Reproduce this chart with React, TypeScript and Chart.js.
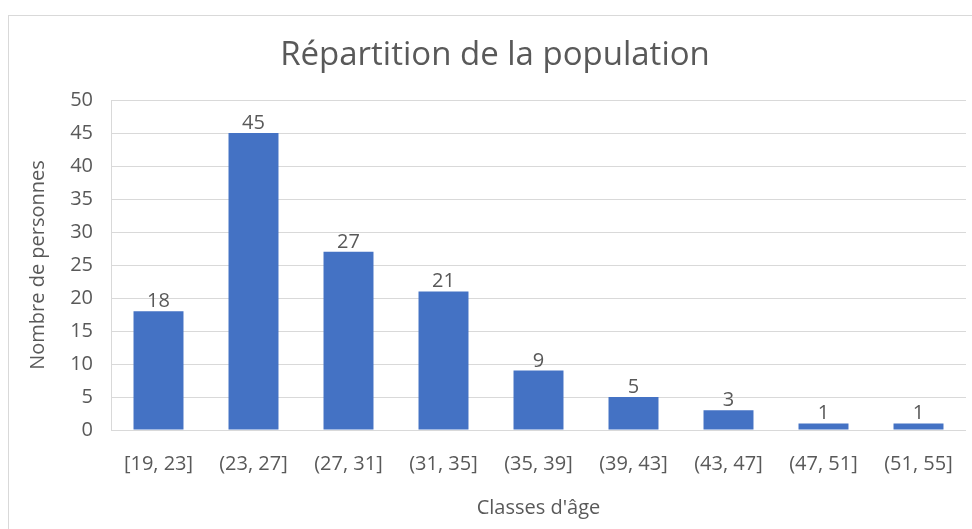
import React, { useEffect, useRef } from "react";
import { Chart, registerables } from "chart.js";

Chart.register(...registerables);

const categories = ["[19, 23]", "(23, 27]", "(27, 31]", "(31, 35]", "(35, 39]", "(39, 43]", "(43, 47]", "(47, 51]", "(51, 55]"];
const counts = [18, 45, 27, 21, 9, 5, 3, 1, 1];
const chartTitle = "Répartition de la population";
const xTitle = "Classes d'âge";
const yTitle = "Nombre de personnes";

const FONT = "'Open Sans', sans-serif";
const TEXT = "#595959";
const GRID = "#d9d9d9";

const borderPlugin = {
  id: "outerBorder",
  beforeDraw(chart: any) {
    const ctx = chart.ctx;
    ctx.save();
    ctx.fillStyle = "#ffffff";
    ctx.fillRect(0, 0, chart.width, chart.height);
    ctx.strokeStyle = GRID;
    ctx.lineWidth = 1;
    ctx.strokeRect(8.5, 15.5, chart.width + 20, chart.height + 20);
    ctx.restore();
  },
};

const titlePlugin = {
  id: "excelTitle",
  afterDraw(chart: any) {
    const ctx = chart.ctx;
    ctx.save();
    ctx.fillStyle = TEXT;
    ctx.font = `33px ${FONT}`;
    ctx.textAlign = "center";
    ctx.textBaseline = "alphabetic";
    ctx.fillText(chartTitle, 495, 65);
    ctx.restore();
  },
};

const labelPlugin = {
  id: "valueLabels",
  afterDatasetsDraw(chart: any) {
    const ctx = chart.ctx;
    const meta = chart.getDatasetMeta(0);
    const data = chart.data.datasets[0].data;
    ctx.save();
    ctx.fillStyle = TEXT;
    ctx.font = `20px ${FONT}`;
    ctx.textAlign = "center";
    ctx.textBaseline = "alphabetic";
    meta.data.forEach((bar: any, i: number) => {
      ctx.fillText(String(data[i]), bar.x, bar.y - 4);
    });
    ctx.restore();
  },
};

export default function App() {
  const ref = useRef<HTMLCanvasElement>(null);
  useEffect(() => {
    if (!ref.current) return;
    const chart = new Chart(ref.current, {
      type: "bar",
      data: {
        labels: categories,
        datasets: [
          {
            data: counts,
            backgroundColor: "#4472C4",
            borderWidth: 0,
            categoryPercentage: 1,
            barPercentage: 0.526,
          },
        ],
      },
      options: {
        responsive: false,
        animation: false,
        layout: { padding: { left: 0, right: 6, top: 100, bottom: 0 } },
        plugins: {
          legend: { display: false },
          tooltip: { enabled: false },
          title: { display: false },
        },
        scales: {
          x: {
            grid: { display: false },
            border: { display: false },
            ticks: {
              color: TEXT,
              font: { family: FONT, size: 20 },
              padding: 14,
              maxRotation: 0,
              autoSkip: false,
            },
            title: {
              display: true,
              text: xTitle,
              color: TEXT,
              font: { family: FONT, size: 20 },
              padding: { top: 0, bottom: 9 },
            },
            afterFit(scale: any) {
              scale.height = 99;
            },
          },
          y: {
            min: 0,
            max: 50,
            grid: { color: GRID, drawTicks: false },
            border: { display: true, color: GRID },
            ticks: {
              stepSize: 5,
              color: TEXT,
              font: { family: FONT, size: 20 },
              padding: 18,
            },
            title: {
              display: true,
              text: yTitle,
              color: TEXT,
              font: { family: FONT, size: 20 },
              padding: { top: 26, bottom: 0 },
            },
            afterFit(scale: any) {
              scale.width = 111;
            },
          },
        },
      },
      plugins: [borderPlugin, labelPlugin, titlePlugin],
    } as any);
    return () => chart.destroy();
  }, []);
  return (
    <div style={{ position: "fixed", left: 0, top: 0, width: 972, height: 529 }}>
      <canvas ref={ref} width={972} height={529} />
    </div>
  );
}
